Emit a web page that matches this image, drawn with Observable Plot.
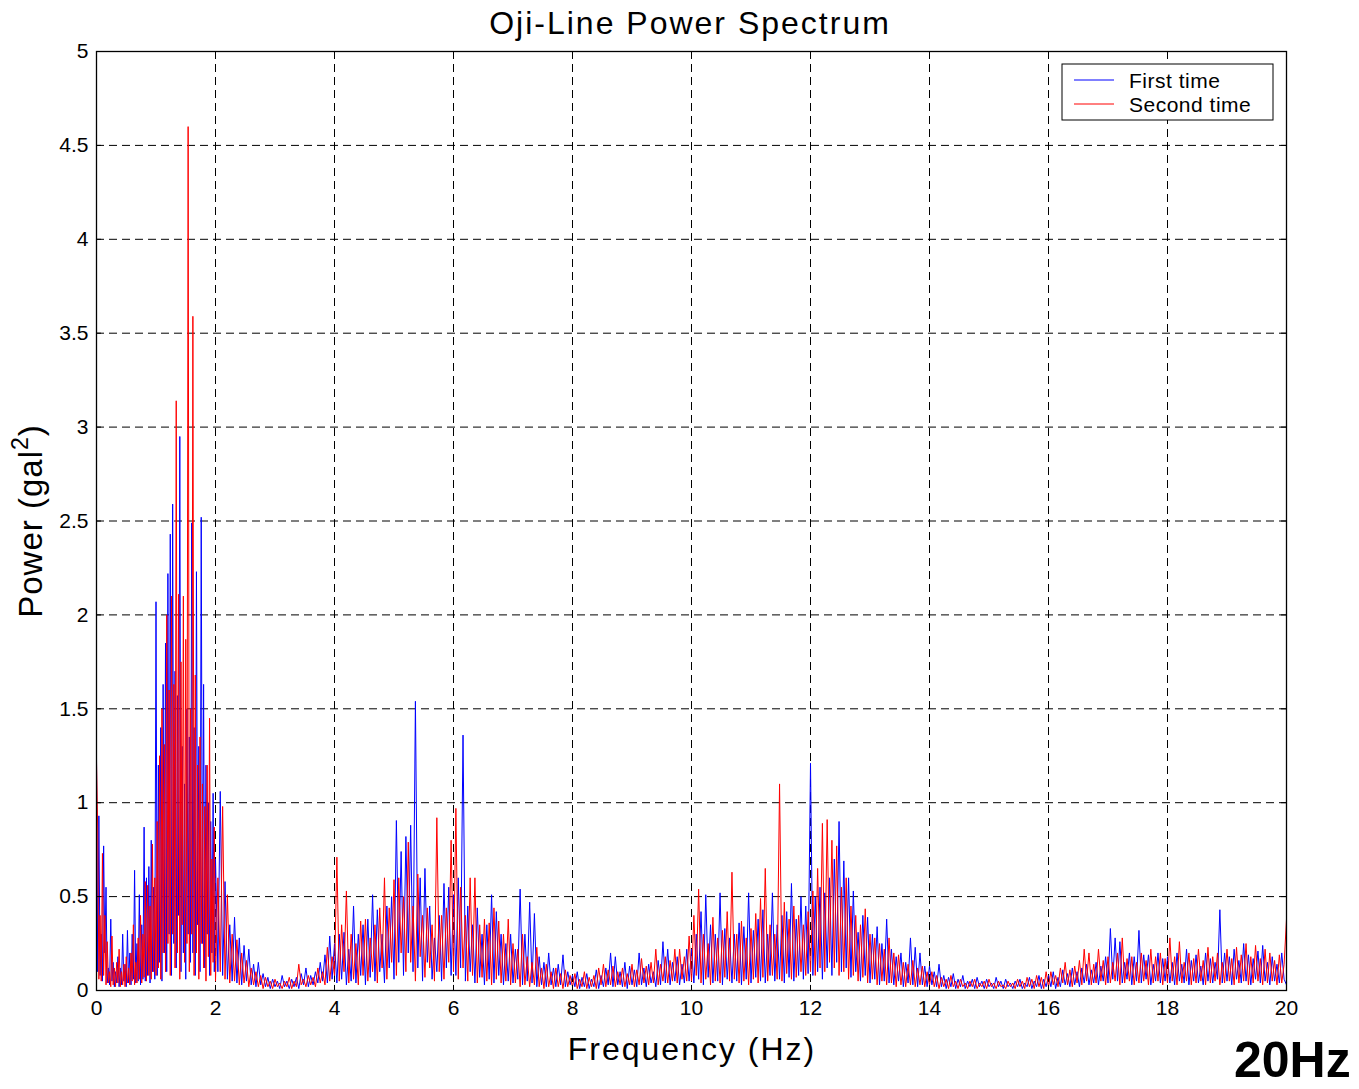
<!DOCTYPE html>
<html><head><meta charset="utf-8">
<script src="https://cdn.jsdelivr.net/npm/d3@7"></script>
<script src="https://cdn.jsdelivr.net/npm/@observablehq/plot@0.6"></script>
<style>
body{margin:0;background:#fff;font-family:"Liberation Sans",Arial,Helvetica,sans-serif;}
#chart{position:relative;width:1359px;height:1089px;}
</style></head><body><div id="chart"></div>
<script>
// Each row covers 2 Hz of frequency bins, evenly spaced across the row
const rowSpan = 2;

const firstTime = [
 [1.25,0.10,0.93,0.08,0.30,0.05,0.77,0.20,0.55,0.04,0.12,0.03,0.38,0.05,0.15,0.02,0.10,0.04,0.18,0.02,
  0.12,0.03,0.30,0.05,0.14,0.02,0.32,0.04,0.20,0.03,0.30,0.06,0.64,0.04,0.25,0.05,0.51,0.03,0.35,0.06,
  0.87,0.05,0.60,0.08,0.66,0.04,0.80,0.10,0.55,0.06,2.07,0.08,1.20,0.15,1.40,0.05,1.63,0.20,1.85,0.10,
  2.22,0.30,2.43,0.08,2.59,0.25,1.70,0.12,1.57,0.40,2.95,0.10,1.30,0.20,1.10,0.06,1.50,0.30,1.35,0.15,
  2.49,0.20,1.40,0.08,2.23,0.35,1.30,0.10,2.52,0.25,1.63,0.12,1.20,0.30,1.00,0.08,0.90,0.20,1.05,0.10],
 [0.70,0.10,1.06,0.08,0.58,0.06,0.35,0.05,0.39,0.04,0.28,0.03,0.24,0.05,0.22,0.03,0.14,0.02,0.15,0.03,0.09,0.02,0.07,0.01,0.06,0.02,0.05,0.01,0.08,0.02,0.05,0.01,0.06,0.02,0.07,0.01,0.09,0.03,0.12,0.02,0.08,0.03,0.10,0.04,0.15,0.05,0.19,0.04,0.29,0.06],
 [0.25,0.04,0.30,0.06,0.31,0.03,0.22,0.05,0.45,0.04,0.30,0.08,0.35,0.03,0.38,0.07,0.51,0.05,0.43,0.10,0.30,0.04,0.45,0.12,0.50,0.06,0.905,0.15,0.74,0.08,0.82,0.20,0.88,0.10,1.54,0.12,0.60,0.05,0.65,0.15,0.45,0.06,0.28,0.10,0.40,0.05,0.57,0.12,0.55,0.08],
 [0.51,0.08,0.60,0.12,1.36,0.05,0.45,0.10,0.35,0.04,0.44,0.07,0.30,0.03,0.35,0.06,0.51,0.04,0.42,0.08,0.30,0.03,0.25,0.05,0.30,0.04,0.22,0.06,0.54,0.03,0.30,0.05,0.47,0.04,0.41,0.02,0.18,0.03,0.15,0.02,0.20,0.03,0.12,0.02,0.14,0.03,0.19,0.02,0.10,0.03],
 [0.08,0.02,0.10,0.01,0.07,0.02,0.09,0.01,0.06,0.02,0.11,0.01,0.08,0.02,0.12,0.03,0.20,0.02,0.18,0.03,0.10,0.02,0.15,0.01,0.13,0.03,0.11,0.02,0.20,0.03,0.12,0.02,0.14,0.04,0.10,0.02,0.16,0.03,0.26,0.04,0.22,0.03,0.15,0.05,0.18,0.03,0.14,0.04,0.22,0.05],
 [0.22,0.04,0.30,0.06,0.42,0.03,0.51,0.07,0.35,0.04,0.30,0.05,0.52,0.03,0.33,0.06,0.28,0.04,0.30,0.05,0.36,0.03,0.34,0.06,0.52,0.04,0.32,0.07,0.38,0.05,0.43,0.04,0.30,0.08,0.52,0.05,0.35,0.06,0.40,0.04,0.42,0.07,0.57,0.05,0.38,0.08,0.50,0.06,0.45,0.09],
 [1.21,0.08,0.50,0.10,0.55,0.06,0.52,0.12,0.60,0.08,0.70,0.15,0.90,0.10,0.69,0.12,0.60,0.07,0.53,0.10,0.31,0.05,0.40,0.08,0.39,0.04,0.30,0.06,0.34,0.03,0.25,0.05,0.38,0.04,0.22,0.03,0.18,0.05,0.20,0.02,0.15,0.04,0.28,0.03,0.23,0.02,0.20,0.03,0.13,0.02],
 [0.13,0.03,0.10,0.02,0.14,0.02,0.08,0.01,0.07,0.02,0.09,0.01,0.06,0.02,0.08,0.01,0.05,0.02,0.06,0.01,0.07,0.02,0.05,0.01,0.06,0.02,0.04,0.01,0.07,0.02,0.05,0.01,0.06,0.02,0.04,0.01,0.05,0.02,0.06,0.01,0.04,0.02,0.07,0.01,0.05,0.02,0.08,0.01,0.06,0.02],
 [0.08,0.02,0.10,0.01,0.07,0.02,0.11,0.03,0.09,0.02,0.12,0.03,0.10,0.02,0.12,0.04,0.14,0.03,0.11,0.04,0.15,0.03,0.13,0.05,0.18,0.04,0.33,0.06,0.28,0.05,0.26,0.04,0.15,0.06,0.20,0.03,0.18,0.05,0.32,0.04,0.19,0.06,0.19,0.03,0.14,0.05,0.20,0.04,0.17,0.05],
 [0.18,0.04,0.15,0.03,0.20,0.05,0.14,0.04,0.22,0.03,0.16,0.05,0.19,0.04,0.13,0.03,0.20,0.05,0.17,0.04,0.15,0.06,0.43,0.04,0.20,0.05,0.18,0.03,0.22,0.06,0.16,0.04,0.25,0.05,0.19,0.03,0.17,0.06,0.21,0.04,0.24,0.05,0.15,0.03,0.18,0.05,0.14,0.04,0.20,0.06],
 [0.03]
];

const secondTime = [
 [1.22,0.86,0.06,0.40,0.05,0.73,0.08,0.40,0.03,0.26,0.04,0.10,0.02,0.29,0.03,0.12,0.02,0.15,0.04,0.22,
  0.02,0.10,0.03,0.14,0.02,0.18,0.04,0.12,0.03,0.20,0.05,0.35,0.03,0.15,0.04,0.28,0.06,0.40,0.04,0.30,
  0.07,0.58,0.05,0.56,0.08,0.45,0.06,0.78,0.10,0.60,0.08,0.90,0.12,1.25,0.06,1.50,0.20,1.31,0.10,2.00,
  0.25,1.60,0.08,2.10,0.30,1.63,0.12,3.14,0.20,2.11,0.06,1.75,0.35,2.10,0.15,1.87,0.25,4.60,0.10,1.50,
  0.30,3.59,0.08,1.68,0.20,1.20,0.06,1.35,0.25,1.10,0.12,0.98,0.05,1.20,0.18,1.45,0.08,0.70,0.15,0.87],
 [0.05,0.60,0.10,0.98,0.06,0.51,0.04,0.30,0.05,0.27,0.03,0.20,0.04,0.16,0.02,0.12,0.03,0.10,0.02,0.08,0.01,0.07,0.02,0.05,0.01,0.06,0.02,0.04,0.01,0.05,0.02,0.07,0.01,0.05,0.02,0.14,0.03,0.06,0.02,0.08,0.03,0.07,0.02,0.12,0.04,0.10,0.03,0.23,0.05,0.18],
 [0.08,0.71,0.05,0.35,0.10,0.53,0.04,0.30,0.06,0.25,0.03,0.37,0.08,0.38,0.05,0.28,0.10,0.35,0.04,0.44,0.12,0.60,0.06,0.44,0.15,0.59,0.08,0.60,0.20,0.50,0.10,0.79,0.15,0.45,0.05,0.62,0.18,0.40,0.07,0.44,0.12,0.35,0.05,0.92,0.10,0.40,0.06,0.44,0.15,0.80],
 [0.10,0.97,0.06,0.55,0.12,0.40,0.05,0.60,0.08,0.60,0.04,0.35,0.07,0.38,0.05,0.36,0.03,0.44,0.06,0.37,0.04,0.30,0.05,0.38,0.03,0.25,0.04,0.22,0.02,0.30,0.03,0.18,0.02,0.15,0.03,0.23,0.02,0.12,0.01,0.14,0.02,0.10,0.01,0.12,0.02,0.09,0.01,0.11,0.02,0.08],
 [0.02,0.09,0.01,0.06,0.02,0.10,0.01,0.07,0.02,0.08,0.01,0.12,0.03,0.14,0.02,0.11,0.03,0.13,0.02,0.10,0.03,0.12,0.02,0.09,0.03,0.14,0.02,0.11,0.03,0.17,0.04,0.13,0.03,0.15,0.04,0.22,0.03,0.14,0.05,0.18,0.04,0.16,0.05,0.22,0.04,0.22,0.06,0.18,0.05,0.29],
 [0.05,0.40,0.08,0.54,0.04,0.30,0.06,0.25,0.03,0.39,0.05,0.28,0.04,0.32,0.07,0.42,0.05,0.63,0.06,0.30,0.04,0.37,0.05,0.28,0.03,0.33,0.06,0.41,0.04,0.49,0.07,0.65,0.05,0.35,0.08,0.30,0.06,1.10,0.05,0.47,0.09,0.38,0.06,0.45,0.07,0.40,0.10,0.35,0.08,0.42],
 [0.10,0.53,0.08,0.65,0.12,0.89,0.10,0.91,0.15,0.80,0.12,0.77,0.08,0.55,0.10,0.60,0.06,0.45,0.08,0.40,0.05,0.35,0.07,0.435,0.04,0.30,0.06,0.28,0.03,0.25,0.05,0.22,0.03,0.28,0.04,0.20,0.02,0.19,0.03,0.15,0.02,0.14,0.03,0.16,0.02,0.12,0.03,0.13,0.02,0.10],
 [0.03,0.10,0.02,0.08,0.01,0.07,0.02,0.06,0.01,0.08,0.02,0.05,0.01,0.06,0.02,0.04,0.01,0.05,0.02,0.06,0.01,0.04,0.02,0.05,0.01,0.06,0.02,0.04,0.01,0.05,0.02,0.03,0.01,0.05,0.02,0.04,0.01,0.06,0.02,0.05,0.01,0.07,0.02,0.06,0.01,0.08,0.02,0.07,0.01,0.10],
 [0.02,0.10,0.03,0.08,0.02,0.12,0.04,0.15,0.03,0.11,0.02,0.13,0.04,0.16,0.03,0.22,0.05,0.20,0.03,0.14,0.04,0.22,0.05,0.16,0.03,0.18,0.04,0.15,0.05,0.20,0.03,0.28,0.04,0.17,0.05,0.18,0.03,0.15,0.04,0.20,0.05,0.16,0.03,0.22,0.04,0.18,0.05,0.20,0.03,0.17],
 [0.04,0.28,0.05,0.18,0.03,0.26,0.04,0.15,0.05,0.20,0.03,0.17,0.04,0.22,0.05,0.16,0.03,0.23,0.04,0.18,0.05,0.20,0.03,0.15,0.04,0.22,0.05,0.17,0.03,0.23,0.04,0.19,0.05,0.25,0.03,0.18,0.04,0.24,0.05,0.17,0.03,0.22,0.04,0.20,0.05,0.16,0.03,0.19,0.04,0.14],
 [0.38]
];

const xTicks = [0,2,4,6,8,10,12,14,16,18,20];
const yTicks = [0,0.5,1,1.5,2,2.5,3,3.5,4,4.5,5];
const seriesNames = ["First time","Second time"];
const seriesColors = ["#0000ff","#ff0000"];

const FONT = '"Liberation Sans", Arial, Helvetica, sans-serif';

function toPoints(rows){
  const pts = [];
  rows.forEach((row, r) => {
    const step = rowSpan / row.length;
    row.forEach((v, k) => pts.push({f: r * rowSpan + k * step, p: v}));
  });
  return pts;
}
const first = toPoints(firstTime);
const second = toPoints(secondTime);

const plot = Plot.plot({
  width: 1359, height: 1089,
  marginLeft: 96, marginRight: 73, marginTop: 51, marginBottom: 99,
  style: {fontFamily: FONT, fontSize: "21px", color: "#000", background: "#fff", overflow: "visible"},
  x: {domain: [0, 20], ticks: xTicks, tickSize: 0, tickPadding: 10, tickFormat: d => String(d), label: null},
  y: {domain: [0, 5], ticks: yTicks, tickSize: 0, tickPadding: 8, tickFormat: d => String(d), label: null},
  marks: [
    Plot.ruleX(xTicks.slice(1, -1), {x: d => d, stroke: "#000", strokeWidth: 1, strokeDasharray: "8,5"}),
    Plot.ruleY(yTicks.slice(1, -1), {y: d => d, stroke: "#000", strokeWidth: 1, strokeDasharray: "8,5"}),
    Plot.line(first, {x: "f", y: "p", stroke: seriesColors[0], strokeWidth: 1, clip: true, strokeLinejoin: "miter"}),
    Plot.line(second, {x: "f", y: "p", stroke: seriesColors[1], strokeWidth: 1, clip: true, strokeLinejoin: "miter"}),
    // inward MATLAB-style ticks on all four sides
    Plot.ruleX(xTicks, {x: d => d, y1: 0, y2: 0.027, stroke: "#000"}),
    Plot.ruleX(xTicks, {x: d => d, y1: 5, y2: 4.973, stroke: "#000"}),
    Plot.ruleY(yTicks, {y: d => d, x1: 0, x2: 0.084, stroke: "#000"}),
    Plot.ruleY(yTicks, {y: d => d, x1: 20, x2: 19.916, stroke: "#000"}),
    Plot.frame({stroke: "#000", strokeWidth: 1.3})
  ]
});

document.getElementById("chart").appendChild(plot);
const svg = d3.select(plot);

// Title
svg.append("text").attr("x", 690).attr("y", 34).attr("text-anchor", "middle")
  .attr("font-family", FONT).attr("font-size", 32).attr("letter-spacing", "2px").attr("fill", "#000")
  .text("Oji-Line Power Spectrum");

// X label
svg.append("text").attr("x", 692).attr("y", 1060).attr("text-anchor", "middle")
  .attr("font-family", FONT).attr("font-size", 32).attr("letter-spacing", "2px").attr("fill", "#000")
  .text("Frequency (Hz)");

// Y label
const yl = svg.append("text").attr("transform", "translate(42,521) rotate(-90)").attr("text-anchor", "middle")
  .attr("font-family", FONT).attr("font-size", 33).attr("letter-spacing", "1px").attr("fill", "#000");
yl.append("tspan").text("Power (gal");
yl.append("tspan").attr("dy", -14).attr("font-size", 23).text("2");
yl.append("tspan").attr("dy", 14).text(")");

// Legend
const lg = svg.append("g");
lg.append("rect").attr("x", 1062).attr("y", 64).attr("width", 211).attr("height", 56)
  .attr("fill", "#fff").attr("stroke", "#000").attr("stroke-width", 1);
seriesNames.forEach((name, i) => {
  const cy = 80 + i * 24;
  lg.append("line").attr("x1", 1074).attr("x2", 1114).attr("y1", cy).attr("y2", cy)
    .attr("stroke", seriesColors[i]).attr("stroke-width", 1);
  lg.append("text").attr("x", 1129).attr("y", cy + 8).attr("text-anchor", "start").attr("font-family", FONT)
    .attr("font-size", 21).attr("letter-spacing", "0.5px").attr("fill", "#000").text(name);
});

// Annotation
svg.append("text").attr("x", 1234).attr("y", 1077).attr("text-anchor", "start").attr("font-family", FONT)
  .attr("font-size", 50).attr("font-weight", "bold").attr("fill", "#000").text("20Hz");
</script>
</body></html>
